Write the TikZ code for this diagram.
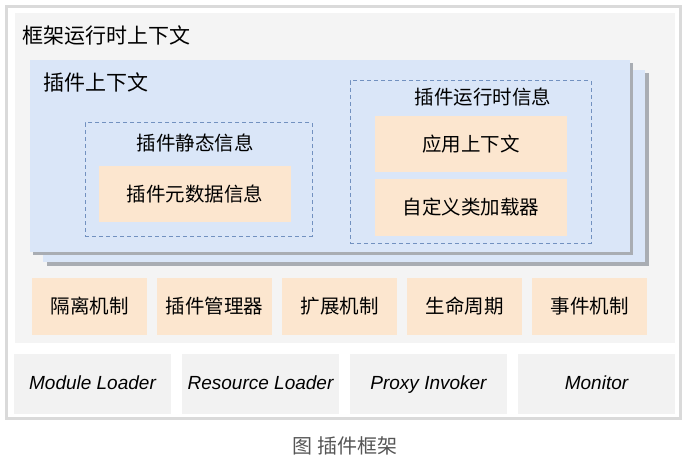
\documentclass[tikz,border=0pt]{standalone}
\usepackage{fontspec}
\setmainfont{Liberation Sans}
\newfontfamily\cjk{Noto Sans CJK SC}
\usepackage{xcolor}
\usepackage{tikz}
\usetikzlibrary{positioning}

\definecolor{framegray}{HTML}{DADADA}
\definecolor{ctxgray}{HTML}{F4F4F4}
\definecolor{plugblue}{HTML}{DAE6F8}
\definecolor{shadowgray}{HTML}{A9ADB3}
\definecolor{dashblue}{HTML}{7291C0}
\definecolor{databg}{HTML}{FCE6CF}
\definecolor{loadergray}{HTML}{F2F2F2}
\definecolor{capgray}{HTML}{555555}

\begin{document}
\begin{tikzpicture}[
    x=1pt, y=-1pt,
    box/.style={rectangle, inner sep=0pt, outer sep=0pt},
    ctxbox/.style={box, fill=plugblue, minimum height=192pt},
    shade/.style={box, fill=shadowgray, minimum height=192pt},
    infobox/.style={box, draw=dashblue, line width=1pt, dash pattern=on 4pt off 3pt},
    databox/.style={box, fill=databg, minimum width=192pt, minimum height=56pt, font=\cjk\fontsize{19.5}{23}\selectfont},
    mech/.style={box, fill=databg, minimum width=115pt, minimum height=57pt, font=\cjk\fontsize{19.5}{23}\selectfont},
    loader/.style={box, fill=loadergray, minimum width=157pt, minimum height=60pt, text height=14pt, text depth=4pt, font=\itshape\fontsize{19}{23}\selectfont},
    title/.style={anchor=west, inner sep=0pt, font=\cjk\fontsize{21}{25}\selectfont},
    label/.style={inner sep=0pt, font=\cjk\fontsize{19.5}{23}\selectfont}
]
\useasboundingbox (0,0) rectangle (693,468);

% outer frame and framework context
\node[box, draw=framegray, line width=3pt, minimum width=674pt, minimum height=412pt] (frame) at (343.5,212.5) {};
\node[box, fill=ctxgray, minimum width=660pt, minimum height=330pt] (runtime) at (345,178) {};
\node[title] (runtimetitle) at (22,35) {框架运行时上下文};

% plugin context (stacked)
\node[shade, minimum width=602pt] (backshade) at (347.5,169.5) {};
\node[ctxbox, minimum width=602pt] (plugback) at (344,166) {};
\node[shade, minimum width=600pt] (frontshade) at (333,159) {};
\node[ctxbox, minimum width=600pt] (plugctx) at (330,156) {};
\node[title] (plugtitle) at (43,82) {插件上下文};

% static info
\node[infobox, minimum width=227pt, minimum height=113pt] (static) at (198.5,179.5) {};
\node[label] (statictitle) at (195,143) {插件静态信息};
\node[databox] (meta) at (195,194) {插件元数据信息};

% runtime info
\node[infobox, minimum width=241pt, minimum height=162pt] (rtinfo) at (470.5,162) {};
\node[label] (rttitle) at (483,97.5) {插件运行时信息};
\node[databox] (appctx) at (471,144) {应用上下文};
\node[databox, minimum height=57pt, below=7pt of appctx] (classload) {自定义类加载器};

% mechanisms
\node[mech] (iso) at (89.5,306.5) {隔离机制};
\node[mech, right=10pt of iso] (mgr) {插件管理器};
\node[mech, right=10pt of mgr] (ext) {扩展机制};
\node[mech, right=10pt of ext] (life) {生命周期};
\node[mech, right=10pt of life] (event) {事件机制};

% loaders
\node[loader] (modload) at (92.5,384) {Module Loader};
\node[loader, right=11pt of modload] (resload) {Resource Loader};
\node[loader, right=11pt of resload] (proxy) {Proxy Invoker};
\node[loader, right=11pt of proxy] (monitor) {Monitor};

\node[text=capgray, inner sep=0pt, font=\cjk\fontsize{20}{24}\selectfont] (caption) at (345,446) {图 插件框架};
\end{tikzpicture}
\end{document}
